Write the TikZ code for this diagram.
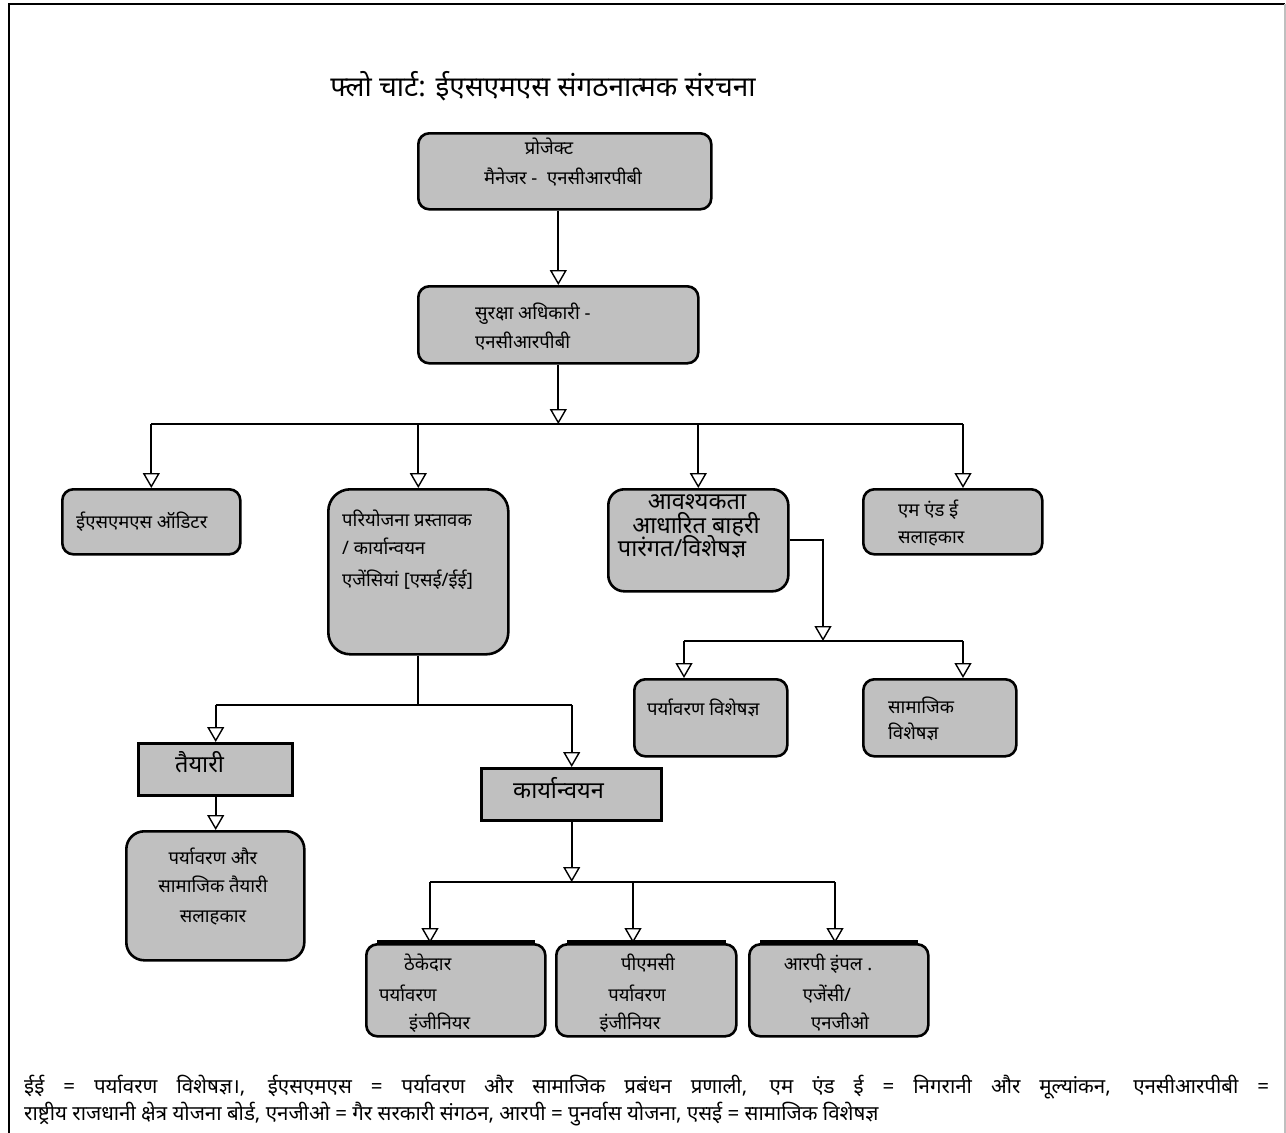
\documentclass[tikz,border=0pt]{standalone}
\usepackage{fontspec}
\setmainfont{Noto Sans}[Script=Devanagari]
\usetikzlibrary{arrows.meta}
\definecolor{boxgray}{RGB}{192,192,192}
\begin{document}
\begin{tikzpicture}[x=1pt,y=-1pt,
    box/.style={draw,line width=2.6pt,fill=boxgray,rounded corners=11pt,
      inner sep=0pt,anchor=north west},
    sqbox/.style={box,rounded corners=0pt,line width=3.4pt},
    link/.style={line width=2.2pt},
    arr/.style={link,-{Triangle[open,width=17pt,length=15pt,line width=1.4pt]}},
    txt/.style={inner sep=0pt,anchor=mid west,yshift=-3.5pt,font=\fontsize{18.5}{22}\selectfont},
    ctxt/.style={txt,anchor=mid},
    bigtxt/.style={txt,font=\fontsize{23.5}{27}\selectfont}]
  \useasboundingbox (0,0) rectangle (1286,1133);
  % frame
  \draw[line width=2pt] (9,1133) -- (9,4) -- (1285,4);
  \draw[line width=2pt,gray!50] (1285,4) -- (1285,1133);
  \node[ctxt,font=\fontsize{28}{32}\selectfont] (title) at (543,90)
    {फ्लो चार्ट: ईएसएमएस संगठनात्मक संरचना};

  % boxes
  \node[box,minimum width=293pt,minimum height=76pt] (pm) at (417,132) {};
  \node[box,minimum width=280pt,minimum height=77pt] (sa) at (417,285) {};
  \node[box,minimum width=178pt,minimum height=65pt] (aud) at (61,488) {};
  \node[box,minimum width=180pt,minimum height=165pt,rounded corners=22pt] (pp) at (327,488) {};
  \node[box,minimum width=180pt,minimum height=102pt,rounded corners=16pt] (need) at (607,488) {};
  \node[box,minimum width=179pt,minimum height=65pt] (me) at (862,488) {};
  \node[box,minimum width=153pt,minimum height=77pt] (env) at (633,678) {};
  \node[box,minimum width=153pt,minimum height=77pt] (soc) at (862,678) {};
  \node[sqbox,minimum width=154pt,minimum height=52pt] (tai) at (137,742) {};
  \node[box,minimum width=178pt,minimum height=129pt,rounded corners=18pt] (adv) at (125,830) {};
  \node[sqbox,minimum width=180pt,minimum height=52pt] (kar) at (480,767) {};
  \node[box,minimum width=179pt,minimum height=92pt] (ctr) at (365,943) {};
  \node[box,minimum width=180pt,minimum height=92pt] (pmc) at (555,943) {};
  \node[box,minimum width=179pt,minimum height=92pt] (rp) at (748,943) {};
  \foreach \n in {ctr,pmc,rp}
    \draw[line width=3.6pt] ([xshift=12pt,yshift=1pt]\n.north west) -- ([xshift=-12pt,yshift=1pt]\n.north east);

  % texts
  \node[ctxt] (pm1) at (549,148) {प्रोजेक्ट};
  \node[ctxt] (pm2) at (563,178) {मैनेजर -~~एनसीआरपीबी};
  \node[txt] (sa1) at (475,313) {सुरक्षा अधिकारी -};
  \node[txt] (sa2) at (475,342) {एनसीआरपीबी};
  \node[txt] (aud1) at (76,522) {ईएसएमएस ऑडिटर};
  \node[txt] (pp1) at (342,520) {परियोजना प्रस्तावक};
  \node[txt] (pp2) at (342,548) {/ कार्यान्वयन};
  \node[txt] (pp3) at (342,580) {एजेंसियां [एसई/ईई]};
  \node[bigtxt,anchor=mid] (need1) at (697,503) {आवश्यकता};
  \node[bigtxt,anchor=mid] (need2) at (696,527) {आधारित बाहरी};
  \node[bigtxt,anchor=mid] (need3) at (682,550) {पारंगत/विशेषज्ञ};
  \node[txt] (me1) at (898,510) {एम एंड ई};
  \node[txt] (me2) at (898,537) {सलाहकार};
  \node[txt] (env1) at (647,709) {पर्यावरण विशेषज्ञ};
  \node[txt] (soc1) at (888,707) {सामाजिक};
  \node[txt] (soc2) at (888,733) {विशेषज्ञ};
  \node[bigtxt] (tai1) at (175,766) {तैयारी};
  \node[ctxt] (adv1) at (213,858) {पर्यावरण और};
  \node[ctxt] (adv2) at (213,886) {सामाजिक तैयारी};
  \node[ctxt] (adv3) at (213,916) {सलाहकार};
  \node[bigtxt] (kar1) at (513,792) {कार्यान्वयन};
  \node[txt] (ctr1) at (404,964) {ठेकेदार};
  \node[txt] (ctr2) at (379,995) {पर्यावरण};
  \node[txt] (ctr3) at (409,1023) {इंजीनियर};
  \node[ctxt] (pmc1) at (648,964) {पीएमसी};
  \node[ctxt] (pmc2) at (637,995) {पर्यावरण};
  \node[ctxt] (pmc3) at (630,1023) {इंजीनियर};
  \node[ctxt] (rp1) at (828,964) {आरपी इंपल .};
  \node[ctxt] (rp2) at (827,995) {एजेंसी/};
  \node[ctxt] (rp3) at (840,1023) {एनजीओ};

  % connectors
  \draw[arr] (pm.south -| sa.north) -- (sa.north);
  \draw[arr] (sa.south) -- (sa.south |- 0,424) coordinate (b1);
  \draw[link] (aud.north |- b1) -- (963,424) coordinate (b1e);
  \foreach \n in {aud,pp,need}
    \draw[arr] (\n.north |- b1) -- (\n.north);
  \draw[arr] (b1e) -- (b1e |- me.north);
  \draw[arr] (need.east) -| (823,641) coordinate (b2);
  \draw[link] (684,641) coordinate (b2w) -- (963,641) coordinate (b2e);
  \draw[arr] (b2w) -- (b2w |- env.north);
  \draw[arr] (b2e) -- (b2e |- soc.north);
  \draw[link] (pp.south) -- (pp.south |- 0,705) coordinate (b3);
  \draw[link] (tai.north |- b3) -- (kar.north |- b3);
  \draw[arr] (tai.north |- b3) -- (tai.north);
  \draw[arr] (kar.north |- b3) -- (kar.north);
  \draw[arr] (tai.south) -- (tai.south |- adv.north);
  \draw[arr] (kar.south) -- (kar.south |- 0,882) coordinate (b4);
  \draw[link] (430,882) -- (835,882);
  \foreach \x/\n in {430/ctr,633/pmc,835/rp}
    \draw[arr] (\x,882) -- (\n.north -| \x,0);

  % legend
  \node[inner sep=0pt,anchor=north west,text width=1245pt,align=justify,
    font=\fontsize{20.5}{27}\selectfont] (leg) at (24,1075)
    {ईई = पर्यावरण विशेषज्ञ।, ईएसएमएस = पर्यावरण और सामाजिक प्रबंधन प्रणाली, एम एंड ई = निगरानी और मूल्यांकन, एनसीआरपीबी =\linebreak
     राष्ट्रीय राजधानी क्षेत्र योजना बोर्ड, एनजीओ = गैर सरकारी संगठन, आरपी = पुनर्वास योजना, एसई = सामाजिक विशेषज्ञ};
\end{tikzpicture}
\end{document}
